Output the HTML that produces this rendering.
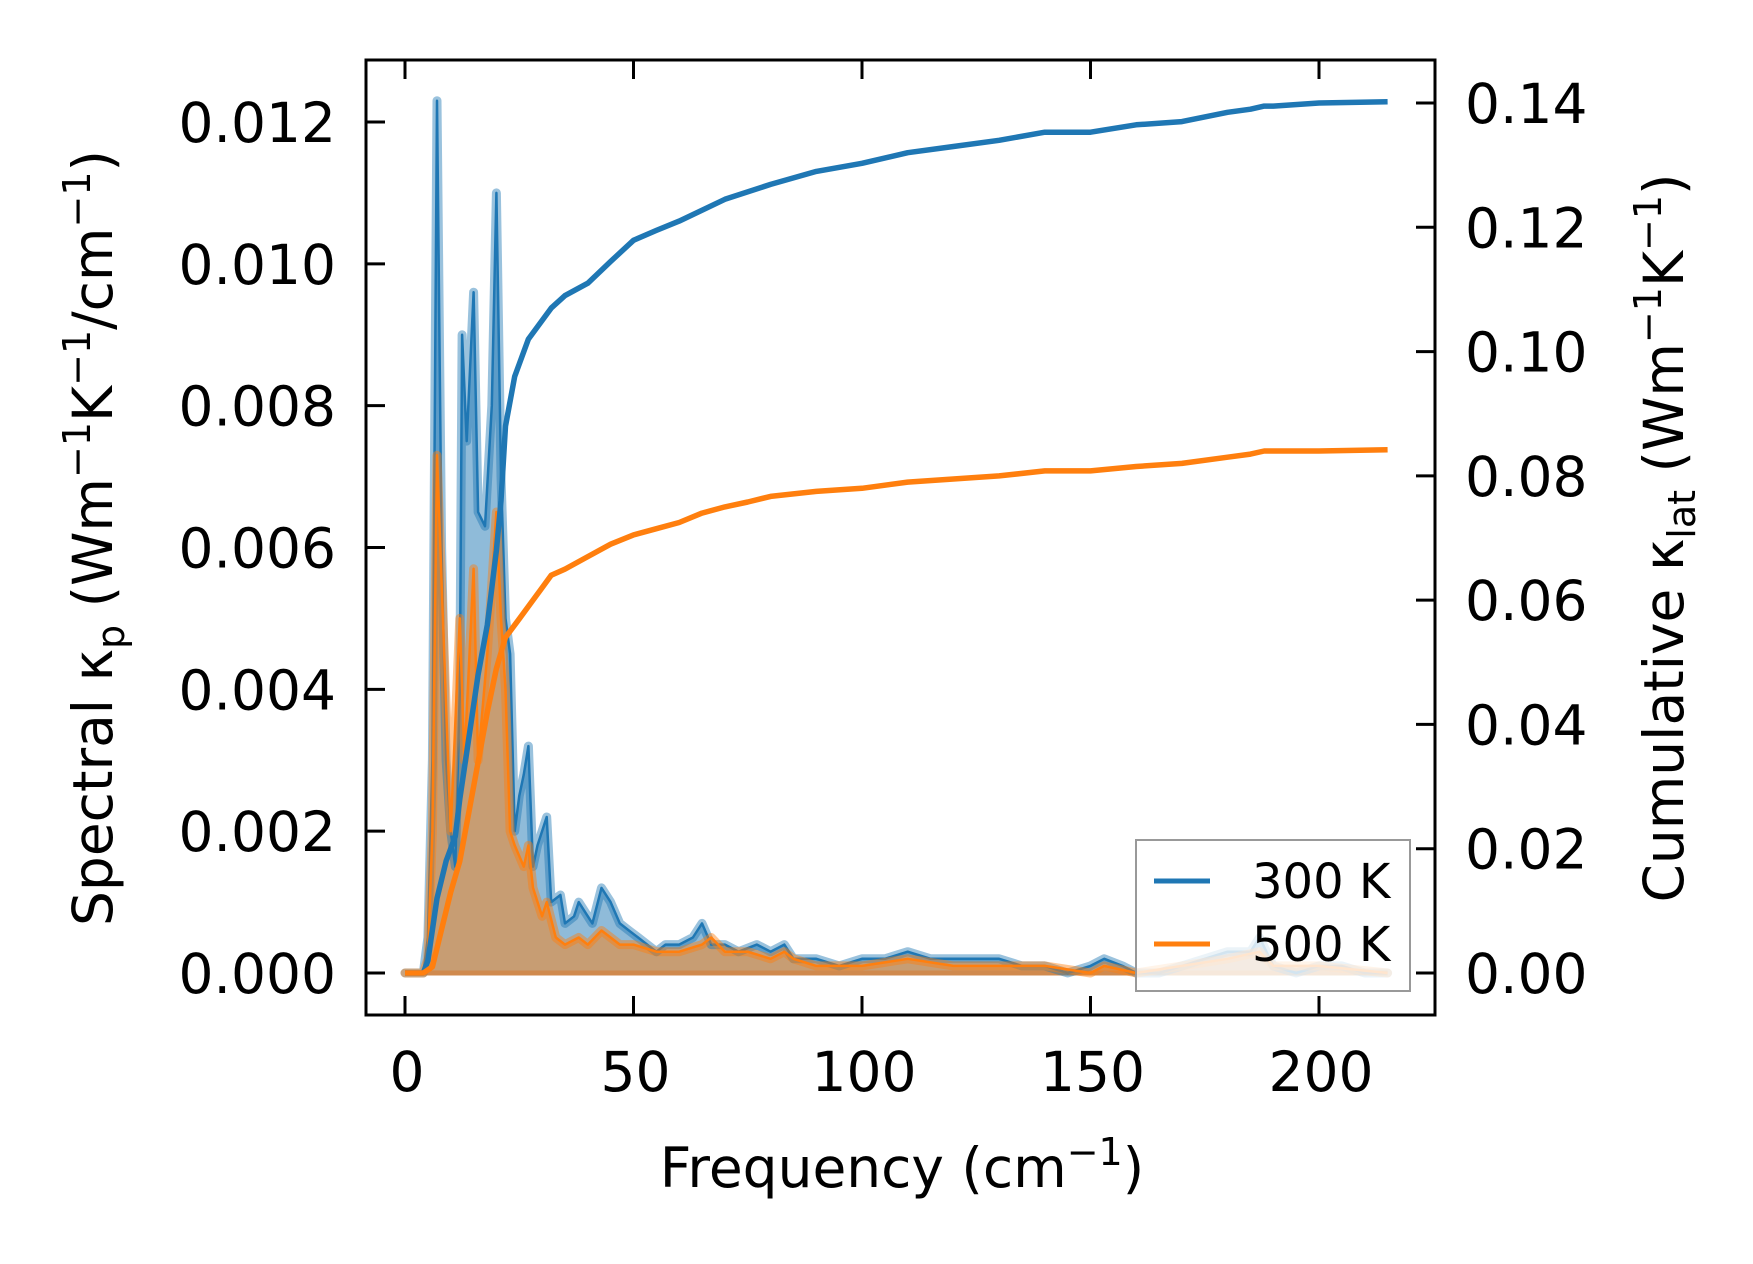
<!DOCTYPE html>
<html><head><meta charset="utf-8"><style>
html,body{margin:0;padding:0;background:#fff;}
svg{display:block;font-family:"DejaVu Sans","Liberation Sans",sans-serif;}
</style></head><body>
<svg id="chart" width="1753" height="1264" viewBox="0 0 1753 1264">
<g id="plot"></g>
</svg>
<script>
const freqB = [0,4,5,6,7,8,9,10,11,12,12.5,13.5,15,16,17.5,19,20,21,22,23,24,25,26,27,28,29,31,32,34,35,37,38,40,41,43,45,47,49,51,53,55,57,60,63,65,67,70,73,77,80,83,85,90,95,100,105,110,115,120,125,130,135,140,145,150,153,157,160,165,170,175,180,185,187,190,195,200,205,210,215];
const specB = [0,0,0.0005,0.003,0.0123,0.006,0.003,0.002,0.0015,0.004,0.009,0.0075,0.0096,0.0065,0.0063,0.008,0.011,0.007,0.005,0.0045,0.002,0.0025,0.0028,0.0032,0.0015,0.0018,0.0022,0.001,0.0011,0.0007,0.0008,0.001,0.0008,0.0007,0.0012,0.001,0.0007,0.0006,0.0005,0.0004,0.0003,0.0004,0.0004,0.0005,0.0007,0.0004,0.0004,0.0003,0.0004,0.0003,0.0004,0.0002,0.0002,0.0001,0.0002,0.0002,0.0003,0.0002,0.0002,0.0002,0.0002,0.0001,0.0001,0,0.0001,0.0002,0.0001,0,0,0.0001,0.0002,0.0003,0.0003,0.0005,0.0001,0,0.0001,0.0001,0,0];
const freqO = [0,4,5,6,7,8,10,12,13,15,16,18,20,21,22,23,24,26,27,28,30,31,33,35,38,40,43,45,47,50,55,60,65,67,70,75,80,83,85,90,100,110,120,130,140,150,153,160,170,180,187,190,200,215];
const specO = [0,0,0.0002,0.002,0.0073,0.0055,0.002,0.005,0.003,0.0057,0.003,0.0045,0.0065,0.005,0.004,0.002,0.0018,0.0015,0.0018,0.0012,0.0008,0.001,0.0005,0.0004,0.0005,0.0004,0.0006,0.0005,0.0004,0.0004,0.0003,0.0003,0.0004,0.0005,0.0003,0.0003,0.0002,0.0003,0.0002,0.0001,0.0001,0.0002,0.0001,0.0001,0.0001,0,0.0001,0,0.0001,0.0002,0.0003,0.0001,0.0001,0];
const cumFreqB = [0,4,5,7,9,11,12,14,16,18,20,21,22,24,27,30,32,35,40,45,50,55,60,70,80,90,100,110,120,130,140,150,160,170,180,185,188,190,200,215];
const cumB = [0,0,0.002,0.012,0.018,0.022,0.028,0.038,0.048,0.056,0.068,0.076,0.088,0.096,0.102,0.105,0.107,0.109,0.111,0.1145,0.1179,0.1195,0.121,0.1245,0.1269,0.129,0.1303,0.132,0.133,0.134,0.1353,0.1353,0.1365,0.137,0.1385,0.139,0.1395,0.1395,0.14,0.1402];
const cumFreqO = [0,4,6,7,10,12,15,18,20,22,25,28,30,32,35,40,45,50,55,60,65,70,75,80,90,100,110,120,130,140,150,160,170,180,185,188,200,215];
const cumO = [0,0,0.001,0.004,0.013,0.018,0.03,0.042,0.049,0.054,0.057,0.06,0.062,0.064,0.065,0.067,0.069,0.0705,0.0715,0.0725,0.074,0.075,0.0758,0.0767,0.0775,0.078,0.079,0.0795,0.08,0.0808,0.0808,0.0815,0.082,0.083,0.0835,0.084,0.084,0.0842];
const xTicks = [0,50,100,150,200];
const yLeftTicks = [0,0.002,0.004,0.006,0.008,0.010,0.012];
const yRightTicks = [0,0.02,0.04,0.06,0.08,0.10,0.12,0.14];

const L=366,R=1435,T=60,B=1015;
const X = v => 405 + v*4.57;
const YL = v => 973 - v*(851/0.012);
const YR = v => 973 - v*(870/0.14);
const NS='http://www.w3.org/2000/svg';
const g=document.getElementById('plot');
function el(tag,attrs,parent){const e=document.createElementNS(NS,tag);for(const k in attrs)e.setAttribute(k,attrs[k]);(parent||g).appendChild(e);return e;}
function pts(xs,ys,yf){return xs.map((x,i)=>X(x).toFixed(1)+','+yf(ys[i]).toFixed(1)).join(' ');}

const fb=el('polygon',{points:pts(freqB,specB,YL)+' '+X(215)+','+YL(0)+' '+X(0)+','+YL(0),fill:'#1f77b4','fill-opacity':0.5});


const fo=el('polygon',{points:pts(freqO,specO,YL)+' '+X(215)+','+YL(0)+' '+X(0)+','+YL(0),fill:'#ff7f0e','fill-opacity':0.5});


el('line',{x1:X(0),x2:X(215),y1:YL(0),y2:YL(0),stroke:'#d08a4e','stroke-width':5});
const hb=el('polyline',{points:pts(freqB,specB,YL),fill:'none',stroke:'#1f77b4','stroke-opacity':0.45,'stroke-width':9,'stroke-linejoin':'round','stroke-linecap':'round'});


const lb=el('polyline',{points:pts(freqB,specB,YL),fill:'none',stroke:'#1f77b4','stroke-width':2.5,'stroke-linejoin':'round'});


const ho=el('polyline',{points:pts(freqO,specO,YL),fill:'none',stroke:'#ff7f0e','stroke-opacity':0.45,'stroke-width':9,'stroke-linejoin':'round','stroke-linecap':'round'});


const lo=el('polyline',{points:pts(freqO,specO,YL),fill:'none',stroke:'#ff7f0e','stroke-width':2.5,'stroke-linejoin':'round'});


const cb=el('polyline',{points:pts(cumFreqB,cumB,YR),fill:'none',stroke:'#1f77b4','stroke-width':5.5,'stroke-linejoin':'round'});


const co=el('polyline',{points:pts(cumFreqO,cumO,YR),fill:'none',stroke:'#ff7f0e','stroke-width':5.5,'stroke-linejoin':'round'});



const fr=el('rect',{x:L,y:T,width:R-L,height:B-T,fill:'none',stroke:'#000','stroke-width':3});


const TK=19;
xTicks.forEach(v=>{
  el('line',{x1:X(v),x2:X(v),y1:B,y2:B-TK,stroke:'#000','stroke-width':3});
  el('line',{x1:X(v),x2:X(v),y1:T,y2:T+TK,stroke:'#000','stroke-width':3});
  const t=el('text',{x:X(v)+2,y:1091,'font-size':55,'text-anchor':'middle'});t.textContent=v;
  
  
});
yLeftTicks.forEach(v=>{
  el('line',{x1:L,x2:L+TK,y1:YL(v),y2:YL(v),stroke:'#000','stroke-width':3});
  const t=el('text',{x:336,y:YL(v)+20,'font-size':55,'text-anchor':'end'});t.textContent=v.toFixed(3);
  
  
});
yRightTicks.forEach(v=>{
  el('line',{x1:R,x2:R-TK,y1:YR(v),y2:YR(v),stroke:'#000','stroke-width':3});
  const t=el('text',{x:1465,y:YR(v)+20,'font-size':55,'text-anchor':'start'});t.textContent=v.toFixed(2);
  
  
});
</script>
<div style="position:absolute;left:0;top:0;width:1753px;height:1264px;pointer-events:none;">
<svg width="1753" height="1264" style="position:absolute;left:0;top:0" font-family="DejaVu Sans, Liberation Sans, sans-serif">
  <text x="902" y="1187" font-size="55" text-anchor="middle">Frequency (cm<tspan font-size="38" dy="-22">−1</tspan><tspan dy="22">)</tspan></text>
  <text transform="translate(112,538) rotate(-90)" font-size="55" text-anchor="middle">Spectral κ<tspan font-size="38" dy="12">p</tspan><tspan dy="-12"> (Wm</tspan><tspan font-size="38" dy="-22">−1</tspan><tspan dy="22">K</tspan><tspan font-size="38" dy="-22">−1</tspan><tspan dy="22">/cm</tspan><tspan font-size="38" dy="-22">−1</tspan><tspan dy="22">)</tspan></text>
  <text transform="translate(1683,538) rotate(-90)" font-size="55" text-anchor="middle">Cumulative κ<tspan font-size="38" dy="12">lat</tspan><tspan dy="-12"> (Wm</tspan><tspan font-size="38" dy="-22">−1</tspan><tspan dy="22">K</tspan><tspan font-size="38" dy="-22">−1</tspan><tspan dy="22">)</tspan></text>
  <g>
    <rect x="1136" y="840" width="274" height="151" fill="#fff" fill-opacity="0.8" stroke="#999" stroke-width="2"/>
    <line x1="1154" x2="1210" y1="881" y2="881" stroke="#1f77b4" stroke-width="5"/>
    <text x="1252" y="898" font-size="48">300 K</text>
    <line x1="1154" x2="1210" y1="944" y2="944" stroke="#ff7f0e" stroke-width="5"/>
    <text x="1252" y="961" font-size="48">500 K</text>
  </g>
</svg>
</div>
</body></html>
